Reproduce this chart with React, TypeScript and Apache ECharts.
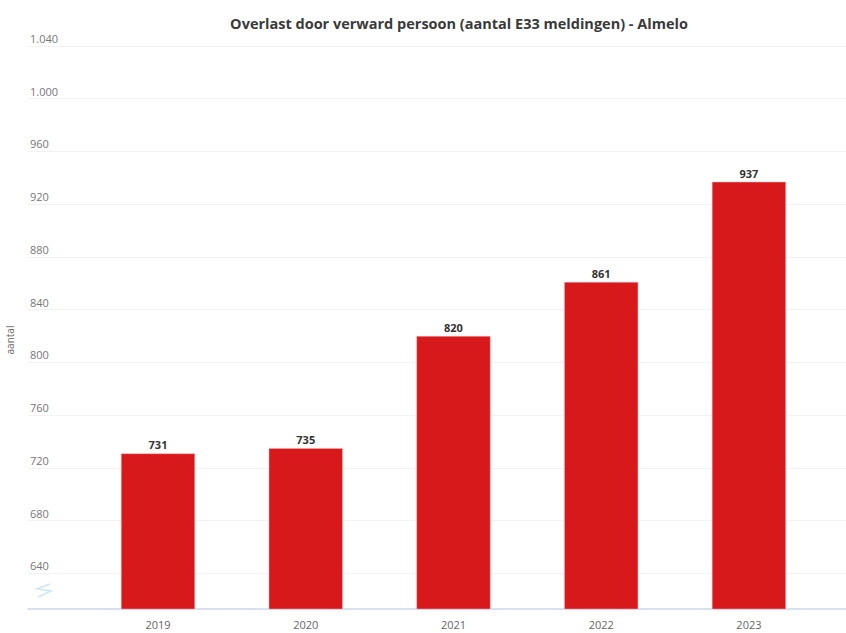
import React, { useEffect, useRef } from "react";
import * as echarts from "echarts";

const categories = ["2019", "2020", "2021", "2022", "2023"];
const values = [731, 735, 820, 861, 937];
const yTicks = [640, 680, 720, 760, 800, 840, 880, 920, 960, 1000, 1040];
const titleText = "Overlast door verward persoon (aantal E33 meldingen) - Almelo";
const yName = "aantal";

const fmt = (v: number) => String(v).replace(/\B(?=(\d{3})+(?!\d))/g, ".");

export default function App() {
  const ref = useRef<HTMLDivElement>(null);
  useEffect(() => {
    if (!ref.current) return;
    const chart = echarts.init(ref.current, null, { renderer: "svg" });
    const font = "'Open Sans', 'DejaVu Sans', sans-serif";
    chart.setOption({
      animation: false,
      backgroundColor: "#ffffff",
      title: {
        text: titleText,
        left: 454,
        textAlign: "center",
        top: 11,
        textStyle: { fontFamily: font, fontSize: 14.5, fontWeight: "bold", color: "#3a3a3a" },
      },
      grid: { left: 28, right: 0, top: 46, bottom: 24, containLabel: false, outerBoundsMode: "none" },
      xAxis: {
        type: "value",
        min: -0.88,
        max: 4.657,
        splitLine: { show: false },
        axisTick: { show: false },
        axisLine: { show: true, lineStyle: { color: "#ccd6eb", width: 1.5 } },
        axisLabel: {
          customValues: categories.map((_, i) => i),
          formatter: (v: number) => categories[Math.round(v)] ?? "",
          color: "#666666",
          fontSize: 11,
          fontFamily: font,
          margin: 10,
        },
      },
      yAxis: {
        type: "value",
        min: 613,
        max: 1040,
        name: yName,
        nameLocation: "middle",
        nameGap: 13,
        nameRotate: 90,
        nameTextStyle: { color: "#666666", fontSize: 10, fontFamily: font, padding: [0, 25, 0, 0] },
        axisLine: { show: false },
        axisTick: { show: false, customValues: yTicks },
        splitLine: { show: true, lineStyle: { color: "#f2f2f2", width: 1 } },
        axisLabel: {
          customValues: yTicks,
          inside: true,
          margin: 2,
          align: "left",
          verticalAlign: "bottom",
          padding: [0, 0, 2, 0],
          color: "#777777",
          fontSize: 11,
          fontFamily: font,
          formatter: (v: number) => fmt(v),
        },
      },
      graphic: [
        {
          type: "polyline",
          shape: { points: [[50, 584], [37, 589], [51, 591], [38, 597]] },
          style: { stroke: "#cfe6ee", lineWidth: 1.5, fill: "none" },
          silent: true,
        },
      ],
      series: [
        {
          type: "bar",
          data: values.map((v, i) => [i, v]),
          barWidth: 74,
          itemStyle: { color: "#d7191c", borderColor: "#f3b0b0", borderWidth: 0.5 },
          label: {
            show: true,
            position: "top",
            distance: 3,
            formatter: (p: any) => fmt(p.value[1]),
            color: "#333333",
            fontSize: 11,
            fontWeight: "bold",
            fontFamily: font,
            textBorderColor: "#ffffff",
            textBorderWidth: 2,
          },
        },
      ],
    });
    return () => chart.dispose();
  }, []);
  return (
    <div
      ref={ref}
      style={{ position: "fixed", left: 0, top: 0, width: 846, height: 633 }}
    />
  );
}
